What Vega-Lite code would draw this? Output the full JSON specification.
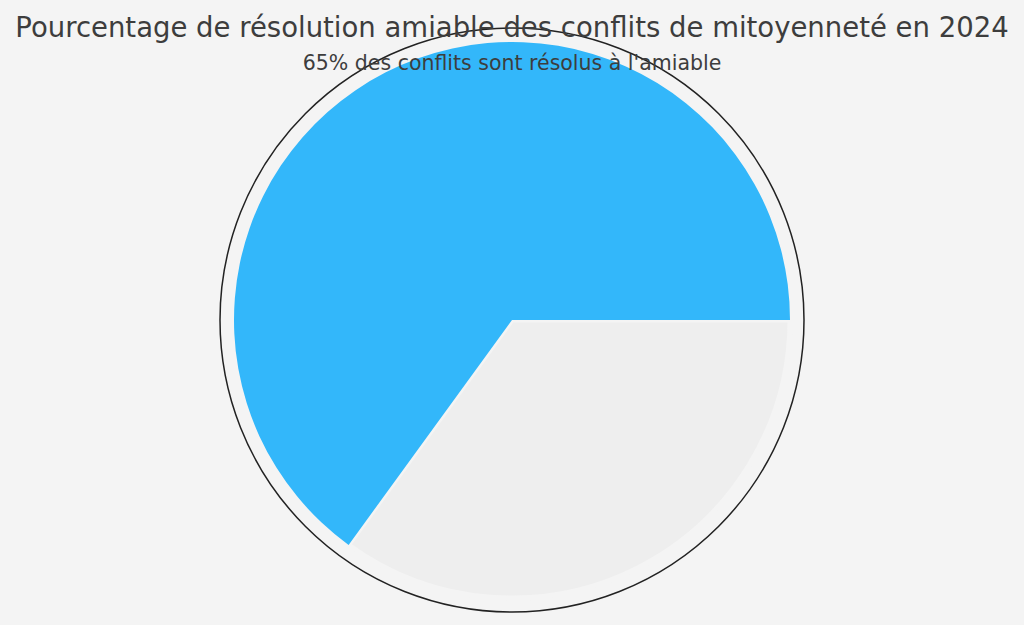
{
  "$schema": "https://vega.github.io/schema/vega-lite/v6.json",
  "width": 1024,
  "height": 640,
  "autosize": {"type": "none"},
  "padding": 0,
  "background": "#f4f4f4",
  "title": {
    "text": "Pourcentage de résolution amiable des conflits de mitoyenneté en 2024",
    "subtitle": "65% des conflits sont résolus à l'amiable",
    "anchor": "middle",
    "frame": "group",
    "offset": -74,
    "font": "DejaVu Sans",
    "fontSize": 27.5,
    "fontWeight": "normal",
    "color": "#3d3d3d",
    "subtitleFont": "DejaVu Sans",
    "subtitleFontSize": 20.5,
    "subtitleColor": "#3d3d3d",
    "subtitlePadding": 11
  },
  "data": {
    "values": [
      {"categorie": "Résolus à l'amiable", "pct": 65},
      {"categorie": "Autres", "pct": 35}
    ]
  },
  "transform": [
    {"stack": "pct", "groupby": [], "sort": [{"field": "pct", "order": "ascending"}], "as": ["debut", "fin"]}
  ],
  "layer": [
    {
      "transform": [{"filter": "datum.categorie == 'Autres'"}],
      "mark": {"type": "arc", "radius": 278, "stroke": "#f4f4f4", "strokeWidth": 5, "strokeJoin": "miter"},
      "encoding": {
        "theta": {"field": "debut", "type": "quantitative", "scale": {"domain": [0, 100], "range": [1.5708, 7.854]}},
        "theta2": {"field": "fin"},
        "color": {"field": "categorie", "type": "nominal", "scale": {"domain": ["Résolus à l'amiable", "Autres"], "range": ["#33b7fa", "#eeeeee"]}, "legend": null}
      }
    },
    {
      "transform": [{"filter": "datum.categorie != 'Autres'"}],
      "mark": {"type": "arc", "radius": 278},
      "encoding": {
        "theta": {"field": "debut", "type": "quantitative", "scale": {"domain": [0, 100], "range": [1.5708, 7.854]}},
        "theta2": {"field": "fin"},
        "color": {"field": "categorie", "type": "nominal", "legend": null}
      }
    },
    {
      "transform": [{"filter": "datum.categorie == 'Autres'"}],
      "mark": {"type": "arc", "radius": 292, "theta": 0, "theta2": 6.2832, "fill": null, "filled": false, "stroke": "#222222", "strokeWidth": 1.5},
      "encoding": {}
    }
  ]
}
